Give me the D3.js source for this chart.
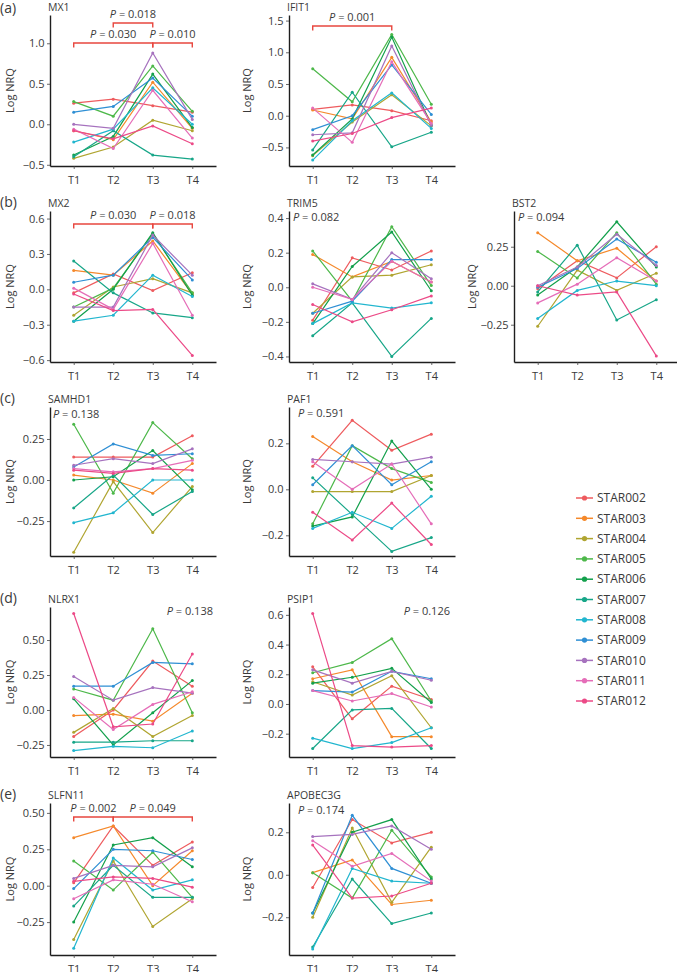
<!DOCTYPE html>
<html><head><meta charset="utf-8">
<script src="https://cdn.jsdelivr.net/npm/d3@7"></script>
<style>
body{margin:0;background:#fff;}
text{font-family:"Open Sans",sans-serif;}
</style></head><body>
<svg id="c" width="677" height="972"></svg>
<script>
const timepoints = ["T1","T2","T3","T4"];
const patients = ["STAR002","STAR003","STAR004","STAR005","STAR006","STAR007","STAR008","STAR009","STAR010","STAR011","STAR012"];
const palette = ["#EE5B5E","#F5892B","#B0A531","#4DB84A","#13A04C","#17A688","#22B6CF","#2F8FD4","#A672BE","#E56DB8","#EC4A87"];

const MX1 = [[0.26,0.31,0.23,0.15],[-0.08,-0.19,0.52,-0.05],[-0.42,-0.28,0.05,-0.08],[0.28,0.10,0.72,0.16],[-0.38,-0.15,0.62,-0.04],[-0.40,-0.08,-0.38,-0.43],[-0.22,-0.06,0.45,0.00],[0.15,0.22,0.57,0.10],[0.00,-0.05,0.88,0.06],[-0.06,-0.30,0.42,-0.17],[-0.08,-0.18,-0.02,-0.24]];
const IFIT1 = [[0.10,0.17,0.08,-0.08],[0.09,-0.05,0.92,-0.10],[-0.63,-0.10,0.33,-0.16],[0.74,0.22,1.28,0.18],[-0.62,-0.05,1.24,-0.15],[-0.54,0.37,-0.49,-0.26],[-0.70,-0.08,0.36,-0.20],[-0.22,0.00,0.80,0.02],[-0.30,-0.27,1.10,-0.15],[0.12,-0.42,0.85,-0.12],[-0.40,-0.28,-0.03,0.12]];
const MX2 = [[-0.03,0.13,-0.01,0.14],[0.16,0.12,0.41,-0.04],[-0.22,0.02,0.09,-0.03],[-0.15,0.01,0.47,-0.03],[-0.27,0.00,0.48,-0.05],[0.24,-0.03,-0.20,-0.24],[-0.27,-0.22,0.12,-0.06],[0.06,0.12,0.44,0.08],[-0.15,-0.15,0.46,0.12],[0.01,-0.17,0.39,-0.22],[-0.04,-0.18,-0.17,-0.56]];
const TRIM5 = [[-0.19,0.17,0.10,0.21],[0.19,0.06,0.15,0.03],[-0.15,0.06,0.07,0.13],[0.21,-0.08,0.35,0.01],[-0.21,0.12,0.32,-0.02],[-0.28,-0.09,-0.40,-0.18],[-0.21,-0.09,-0.12,-0.09],[-0.15,-0.08,0.16,0.16],[0.02,-0.07,0.20,0.05],[0.00,-0.07,0.15,0.03],[-0.10,-0.20,-0.13,-0.05]];
const BST2 = [[-0.02,0.16,0.05,0.25],[0.34,0.16,0.24,0.03],[-0.26,0.10,-0.03,0.08],[0.22,0.05,0.34,0.01],[-0.06,0.12,0.41,0.12],[-0.04,0.26,-0.22,-0.09],[-0.21,-0.03,0.03,0.00],[-0.01,0.11,0.30,0.15],[0.00,0.12,0.33,0.13],[-0.11,0.01,0.18,0.03],[0.00,-0.06,-0.04,-0.45]];
const SAMHD1 = [[0.14,0.14,0.14,0.27],[0.03,0.00,-0.08,0.10],[-0.44,-0.01,-0.32,-0.04],[0.34,-0.08,0.35,0.13],[0.00,0.02,0.18,-0.06],[-0.17,0.03,-0.21,-0.07],[-0.26,-0.20,0.00,0.00],[0.08,0.22,0.15,0.16],[0.09,0.13,0.10,0.19],[0.07,0.05,0.07,0.12],[0.06,0.04,0.07,0.06]];
const PAF1 = [[0.10,0.30,0.17,0.24],[0.23,0.12,0.04,0.06],[-0.01,-0.01,-0.01,0.06],[-0.15,0.19,0.09,0.03],[-0.16,-0.12,0.21,0.00],[0.05,-0.11,-0.27,-0.21],[-0.17,-0.10,-0.17,-0.03],[0.02,0.19,0.02,0.12],[0.13,0.12,0.11,0.14],[0.12,0.00,0.11,-0.15],[-0.10,-0.22,-0.06,-0.24]];
const NLRX1 = [[-0.19,0.00,0.35,0.17],[-0.04,-0.03,-0.08,0.12],[-0.16,0.01,-0.19,-0.04],[0.15,0.07,0.58,-0.02],[0.08,-0.25,-0.02,0.21],[-0.23,-0.23,-0.22,-0.22],[-0.29,-0.26,-0.27,-0.15],[0.17,0.17,0.34,0.33],[0.24,0.07,0.16,0.12],[0.09,-0.14,0.04,0.13],[0.69,-0.12,-0.10,0.40]];
const PSIP1 = [[0.25,-0.10,0.12,0.03],[0.17,0.23,-0.22,-0.22],[0.15,0.06,0.19,-0.16],[0.21,0.28,0.44,0.02],[0.14,0.18,0.24,0.01],[-0.30,-0.04,-0.03,-0.30],[-0.23,-0.30,-0.26,-0.16],[0.09,0.08,0.22,0.17],[0.23,0.14,0.22,0.16],[0.09,0.02,0.07,-0.02],[0.61,-0.28,-0.29,-0.28]];
const SLFN11 = [[0.02,0.41,0.14,0.30],[0.33,0.41,0.00,0.24],[-0.37,0.17,-0.28,-0.09],[0.17,-0.03,0.23,-0.08],[-0.25,0.28,0.33,0.13],[-0.14,0.14,-0.08,-0.08],[-0.43,0.19,-0.03,0.04],[-0.02,0.25,0.24,0.18],[0.05,0.14,0.13,0.26],[-0.09,0.04,0.01,-0.11],[0.03,0.06,0.05,-0.01]];
const APOBEC3G = [[-0.06,0.26,0.15,0.20],[0.01,0.07,-0.14,-0.12],[-0.20,0.22,-0.13,0.13],[0.01,-0.11,0.21,-0.01],[-0.18,0.20,0.26,-0.02],[-0.34,-0.02,-0.23,-0.18],[-0.35,0.03,-0.03,-0.04],[-0.18,0.28,0.03,-0.04],[0.18,0.19,0.23,0.12],[0.16,0.04,0.10,-0.03],[0.14,-0.11,-0.10,-0.04]];

const MX1_ticks = [-0.5,0,0.5,1.0];
const IFIT1_ticks = [-0.5,0,0.5,1.0,1.5];
const MX2_ticks = [-0.6,-0.3,0,0.3,0.6];
const TRIM5_ticks = [-0.4,-0.2,0,0.2,0.4];
const BST2_ticks = [-0.25,0,0.25];
const SAMHD1_ticks = [-0.25,0,0.25];
const PAF1_ticks = [-0.2,0,0.2];
const NLRX1_ticks = [-0.25,0,0.25,0.5];
const PSIP1_ticks = [-0.2,0,0.2,0.4,0.6];
const SLFN11_ticks = [-0.25,0,0.25,0.5];
const APOBEC3G_ticks = [-0.2,0,0.2];

const MX1_tests = [{a:"T2",b:"T3",p:"0.018",lvl:8},{a:"T1",b:"T3",p:"0.030",lvl:28},{a:"T3",b:"T4",p:"0.010",lvl:28}];
const IFIT1_tests = [{a:"T1",b:"T3",p:"0.001",lvl:11}];
const MX2_tests = [{a:"T1",b:"T3",p:"0.030",lvl:13},{a:"T3",b:"T4",p:"0.018",lvl:13}];
const SLFN11_tests = [{a:"T1",b:"T2",p:"0.002",lvl:14},{a:"T2",b:"T4",p:"0.049",lvl:14}];

const colX = [50, 289, 514];
const rowY = [[15,166],[211,362],[407,556],[607,757],[803,955]];
const panelW = 166;
const ylabX = [10, 247, 472];

const panels = [
  {gene:"MX1", data:MX1, col:0, row:0, domain:[-0.515,1.349], ticks:MX1_ticks, fmt:".1f", letter:"(a)", tests:MX1_tests},
  {gene:"IFIT1", data:IFIT1, col:1, row:0, domain:[-0.793,1.588], ticks:IFIT1_ticks, fmt:".1f", tests:IFIT1_tests},
  {gene:"MX2", data:MX2, col:0, row:1, domain:[-0.616,0.664], ticks:MX2_ticks, fmt:".1f", letter:"(b)", tests:MX2_tests},
  {gene:"TRIM5", data:TRIM5, col:1, row:1, domain:[-0.432,0.441], ticks:TRIM5_ticks, fmt:".1f", ptxt:{p:"0.082", anchor:"start", dx:4, dy:10}},
  {gene:"BST2", data:BST2, col:2, row:1, domain:[-0.489,0.479], ticks:BST2_ticks, fmt:".2f", ptxt:{p:"0.094", anchor:"start", dx:4, dy:10}},
  {gene:"SAMHD1", data:SAMHD1, col:0, row:2, domain:[-0.463,0.445], ticks:SAMHD1_ticks, fmt:".2f", letter:"(c)", ptxt:{p:"0.138", anchor:"start", dx:3, dy:11}},
  {gene:"PAF1", data:PAF1, col:1, row:2, domain:[-0.290,0.358], ticks:PAF1_ticks, fmt:".1f", ptxt:{p:"0.591", anchor:"start", dx:9, dy:10}},
  {gene:"NLRX1", data:NLRX1, col:0, row:3, domain:[-0.336,0.736], ticks:NLRX1_ticks, fmt:".2f", letter:"(d)", ptxt:{p:"0.138", anchor:"end", dx:163, dy:8}},
  {gene:"PSIP1", data:PSIP1, col:1, row:3, domain:[-0.357,0.653], ticks:PSIP1_ticks, fmt:".1f", ptxt:{p:"0.126", anchor:"end", dx:161, dy:8}},
  {gene:"SLFN11", data:SLFN11, col:0, row:4, domain:[-0.476,0.568], ticks:SLFN11_ticks, fmt:".2f", letter:"(e)", tests:SLFN11_tests},
  {gene:"APOBEC3G", data:APOBEC3G, col:1, row:4, domain:[-0.378,0.338], ticks:APOBEC3G_ticks, fmt:".1f", ptxt:{p:"0.174", anchor:"start", dx:9, dy:11}}
];

const svg = d3.select("#c");
const axisColor = "#1e1e1e", txtColor = "#3a3a3a", redBr = "#E8473F";

function pText(sel, p){
  sel.append("tspan").attr("font-style","italic").text("P");
  sel.append("tspan").text(" = " + p);
}

panels.forEach(pn => {
  const [top, bottom] = rowY[pn.row];
  const x0 = colX[pn.col];
  const x = d3.scalePoint().domain(timepoints).range([x0, x0 + panelW]).padding(0.6);
  const y = d3.scaleLinear().domain(pn.domain).range([bottom, top]);
  const g = svg.append("g");

  const ya = d3.axisLeft(y).tickValues(pn.ticks).tickFormat(d3.format(pn.fmt)).tickSize(3).tickSizeOuter(0).tickPadding(2.5);
  const yg = g.append("g").attr("transform", `translate(${x0},0)`).call(ya);
  const xa = d3.axisBottom(x).tickSize(3).tickSizeOuter(0).tickPadding(7);
  const xg = g.append("g").attr("transform", `translate(0,${bottom})`).call(xa);
  [yg, xg].forEach(a => {
    a.select(".domain").attr("stroke", axisColor).attr("stroke-width", 1.4);
    a.selectAll(".tick line").attr("stroke", "#444").attr("stroke-width", 0.8);
    a.selectAll(".tick text").attr("fill", txtColor).attr("font-size", 11).attr("font-family", "Open Sans");
  });

  g.append("text").attr("transform", `translate(${ylabX[pn.col]},${(top + bottom) / 2}) rotate(-90)`)
    .attr("text-anchor", "middle").attr("dy", "0.35em").attr("font-size", 11).attr("fill", txtColor).text("Log NRQ");

  g.append("text").attr("x", x0 - 2).attr("y", top - 4).attr("font-size", 10.5).attr("fill", txtColor).text(pn.gene);
  if (pn.letter) g.append("text").attr("x", 0).attr("y", Math.max(top - 4, 13)).attr("font-size", 14).attr("fill", txtColor).text(pn.letter);

  const line = d3.line().x((d, i) => x(timepoints[i])).y(d => y(d));
  pn.data.forEach((row, si) => {
    g.append("path").attr("d", line(row)).attr("fill", "none").attr("stroke", palette[si]).attr("stroke-width", 1.2);
    g.selectAll(null).data(row).enter().append("circle")
      .attr("cx", (d, i) => x(timepoints[i])).attr("cy", d => y(d)).attr("r", 1.5).attr("fill", palette[si]);
  });

  (pn.tests || []).forEach(t => {
    const yb = top + t.lvl;
    const xa1 = x(t.a), xb1 = x(t.b);
    g.append("path").attr("d", `M${xa1},${yb + 4.5}V${yb}H${xb1}V${yb + 4.5}`)
      .attr("fill", "none").attr("stroke", redBr).attr("stroke-width", 1.4);
    const tx = g.append("text").attr("x", (xa1 + xb1) / 2).attr("y", yb - 5).attr("text-anchor", "middle")
      .attr("font-size", 11).attr("fill", txtColor);
    pText(tx, t.p);
  });
  if (pn.ptxt) {
    const tx = g.append("text").attr("x", x0 + pn.ptxt.dx).attr("y", top + pn.ptxt.dy)
      .attr("text-anchor", pn.ptxt.anchor).attr("font-size", 11).attr("fill", txtColor);
    pText(tx, pn.ptxt.p);
  }
});

const lg = svg.append("g");
patients.forEach((name, i) => {
  const yy = 498 + i * 20.3;
  lg.append("line").attr("x1", 576).attr("x2", 593).attr("y1", yy).attr("y2", yy).attr("stroke", palette[i]).attr("stroke-width", 1.5);
  lg.append("circle").attr("cx", 584.5).attr("cy", yy).attr("r", 2.6).attr("fill", palette[i]);
  lg.append("text").attr("x", 597).attr("y", yy).attr("dy", "0.35em").attr("font-size", 12).attr("fill", txtColor).text(name);
});
</script>
</body></html>
